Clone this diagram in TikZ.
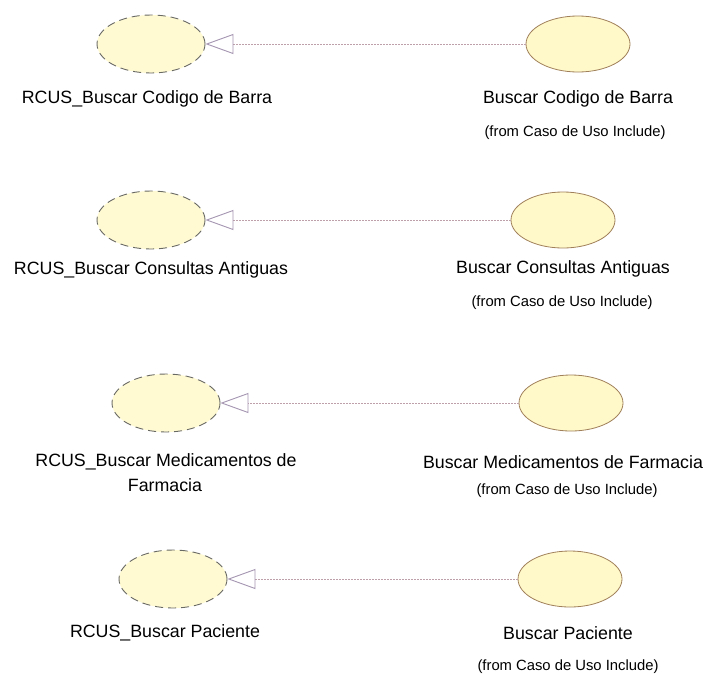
\documentclass[tikz,border=0pt]{standalone}
\usepackage{fontspec}
\setmainfont{Liberation Sans}
\usetikzlibrary{shapes.geometric,arrows.meta}

\definecolor{ucfill}{RGB}{255,249,202}
\definecolor{ucedge}{RGB}{160,128,90}
\definecolor{rcedge}{RGB}{105,105,100}
\definecolor{relline}{RGB}{190,160,170}
\definecolor{relhead}{RGB}{165,150,178}

\tikzset{
  usecase/.style={ellipse, draw=ucedge, line width=0.8pt, fill=ucfill,
    minimum width=104pt, minimum height=56pt, inner sep=0pt},
  realization/.style={ellipse, draw=rcedge, line width=0.9pt, fill=ucfill!85!white,
    dash pattern=on 8pt off 5pt, minimum width=108pt, minimum height=58pt, inner sep=0pt},
  realizes/.style={draw=relline, line width=0.9pt, dash pattern=on 1.5pt off 1.5pt,
    -{Triangle[open, length=28pt, width=20pt, color=relhead, line width=0.9pt]}},
  name label/.style={font=\fontsize{17.8}{21}\selectfont, text=black, inner sep=0pt, align=center},
  from label/.style={font=\fontsize{14.8}{18}\selectfont, text=black, inner sep=0pt}
}

\begin{document}
\begin{tikzpicture}[x=1pt, y=-1pt]
  \useasboundingbox[fill=white] (0,0) rectangle (708,675);

  % row 1
  \node[realization] (l1) at (151,44) {};
  \node[usecase]     (r1) at (578,44) {};
  \node[name label]  (l1t) at (147,99) {RCUS\_Buscar Codigo de Barra};
  \node[name label]  (r1t) at (578,99) {Buscar Codigo de Barra};
  \node[from label]  (r1f) at (575,133) {(from Caso de Uso Include)};
  \draw[realizes] (r1.west) -- (l1.east);

  % row 2
  \node[realization] (l2) at (151,220) {};
  \node[usecase]     (r2) at (563,220) {};
  \node[name label]  (l2t) at (151,270) {RCUS\_Buscar Consultas Antiguas};
  \node[name label]  (r2t) at (563,269) {Buscar Consultas Antiguas};
  \node[from label]  (r2f) at (562,303) {(from Caso de Uso Include)};
  \draw[realizes] (r2.west) -- (l2.east);

  % row 3
  \node[realization] (l3) at (166,403) {};
  \node[usecase]     (r3) at (571,403) {};
  \node[name label]  (l3t) at (166,462) {RCUS\_Buscar Medicamentos de};
  \node[name label]  (l3u) at (165,485) {Farmacia};
  \node[name label]  (r3t) at (563,462) {Buscar Medicamentos de Farmacia};
  \node[from label]  (r3f) at (567,491) {(from Caso de Uso Include)};
  \draw[realizes] (r3.west) -- (l3.east);

  % row 4
  \node[realization] (l4) at (173,579) {};
  \node[usecase]     (r4) at (570,579) {};
  \node[name label]  (l4t) at (165,633) {RCUS\_Buscar Paciente};
  \node[name label]  (r4t) at (568,633) {Buscar Paciente};
  \node[from label]  (r4f) at (568,667) {(from Caso de Uso Include)};
  \draw[realizes] (r4.west) -- (l4.east);
\end{tikzpicture}
\end{document}
